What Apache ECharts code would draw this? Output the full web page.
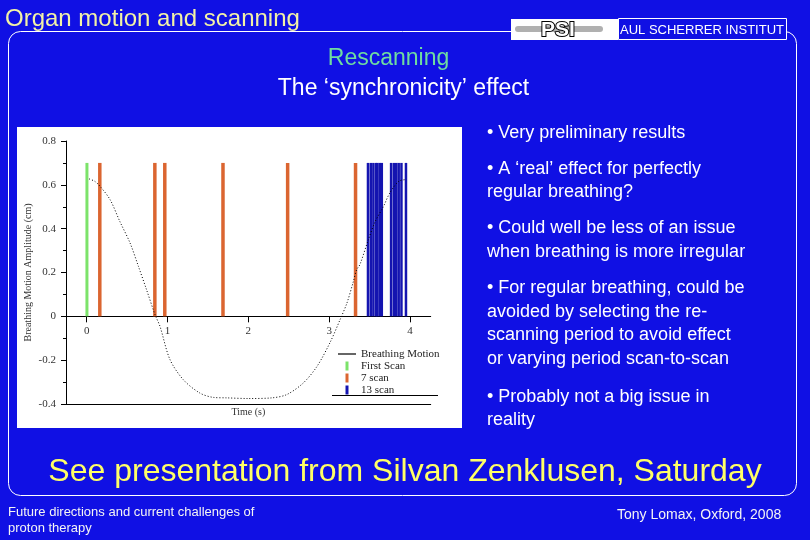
<!DOCTYPE html>
<html><head><meta charset="utf-8">
<script src="https://cdn.jsdelivr.net/npm/echarts@6/dist/echarts.min.js"></script>
<style>html,body{margin:0;padding:0;background:#1010e4}#c{width:810px;height:540px}</style>
</head><body><div id="c"></div>
<script>
// ---- data ----
const timeTicks = [0, 1, 2, 3, 4];
const curveTime = [0.03,0.10,0.166,0.29,0.41,0.536,0.64,0.74,0.845,0.907,1.03,1.195,1.40,1.57,1.73,2.0,2.29,2.475,2.68,2.85,3.01,3.135,3.22,3.30,3.34,3.38,3.485,3.57,3.67,3.75,3.86,3.95];
const curveAmp  = [0.627,0.616,0.593,0.532,0.433,0.335,0.228,0.122,0.008,-0.046,-0.197,-0.289,-0.35,-0.37,-0.372,-0.375,-0.372,-0.357,-0.304,-0.228,-0.12,-0.015,0.061,0.16,0.213,0.236,0.35,0.433,0.50,0.563,0.616,0.624];
const firstScanTime = [0];
const sevenScanTime = [0.156, 0.837, 0.96, 1.68, 2.48, 3.32];
const thirteenScanTime = [3.48, 3.515, 3.547, 3.58, 3.597, 3.626, 3.651, 3.766, 3.80, 3.83, 3.86, 3.894, 3.95];
const scanMarkerHeight = 0.7;
const seriesNames = ['Breathing Motion', 'First Scan', '7 scan', '13 scan'];
const bulletLines = [
  ['• Very preliminary results', 132.7],
  ['• A ‘real’ effect for perfectly', 169.3],
  ['regular breathing?', 192],
  ['• Could well be less of an issue', 228.3],
  ['when breathing is more irregular', 251.7],
  ['• For regular breathing, could be', 288.3],
  ['avoided by selecting the re-', 311.7],
  ['scanning period to avoid effect', 335.5],
  ['or varying period scan-to-scan', 359.5],
  ['• Probably not a big issue in', 396.7],
  ['reality', 420]
];

const SERIF = '"Liberation Serif", "DejaVu Serif", serif';
const SANS = '"Liberation Sans", Arial, sans-serif';
const BG = '#1010e4';

const chart = echarts.init(document.getElementById('c'));
const xMin = -0.256, xMax = 4.256;
const yMin = -0.4, yMax = 0.8;
const gTop = 141, gBottom = 136, gH = 540 - gTop - gBottom;
const zeroY = gTop + gH * (yMax / (yMax - yMin));

const graphicEls = [
  {type:'rect', z:-10, silent:true, shape:{x:8.5,y:31.5,width:788,height:464,r:12}, style:{fill:null, stroke:'#ffffff', lineWidth:1}},
  {type:'rect', z:-5, silent:true, shape:{x:17,y:127,width:445,height:301}, style:{fill:'#ffffff'}},
  {type:'line', silent:true, shape:{x1:332,y1:395.5,x2:438,y2:395.5}, style:{stroke:'#000', lineWidth:1}},
  {type:'text', x:5, y:19.5, style:{text:'Organ motion and scanning', font:'24px ' + SANS, fill:'#f2f2a6', verticalAlign:'middle'}},
  {type:'rect', shape:{x:511,y:19,width:107,height:21}, style:{fill:'#ffffff'}},
  {type:'rect', shape:{x:515,y:26,width:88,height:6,r:3}, style:{fill:'#b0b0b0'}},
  {type:'text', x:558, y:30, style:{text:'PSI', font:'bold 21px ' + SANS, fill:'#ffffff', stroke:'#000', lineWidth:2, align:'center', verticalAlign:'middle'}},
  {type:'rect', shape:{x:618.5,y:18.5,width:168,height:21}, style:{fill:BG, stroke:'#ffffff', lineWidth:1}},
  {type:'text', x:620, y:30, style:{text:'AUL SCHERRER INSTITUT', font:'13px ' + SANS, fill:'#ffffff', verticalAlign:'middle'}},
  {type:'text', x:388.5, y:59, style:{text:'Rescanning', font:'23px ' + SANS, fill:'#6fdca0', align:'center', verticalAlign:'middle'}},
  {type:'text', x:403.5, y:89, style:{text:'The ‘synchronicity’ effect', font:'23px ' + SANS, fill:'#ffffff', align:'center', verticalAlign:'middle'}},
  {type:'text', x:405, y:472, style:{text:'See presentation from Silvan Zenklusen, Saturday', font:'32px ' + SANS, fill:'#ffff66', align:'center', verticalAlign:'middle'}},
  {type:'text', x:8, y:512, style:{text:'Future directions and current challenges of', font:'13px ' + SANS, fill:'#f4f4f4', verticalAlign:'middle'}},
  {type:'text', x:8, y:528.5, style:{text:'proton therapy', font:'13px ' + SANS, fill:'#f4f4f4', verticalAlign:'middle'}},
  {type:'text', x:617, y:515, style:{text:'Tony Lomax, Oxford, 2008', font:'14px ' + SANS, fill:'#f4f4f4', verticalAlign:'middle'}}
];
bulletLines.forEach(([t, y]) => graphicEls.push({type:'text', x:487, y:y, style:{text:t, font:'18px ' + SANS, fill:'#ffffff', verticalAlign:'middle'}}));

const barSeries = (name, times, color, w) => ({
  name, type:'bar', xAxisIndex:0, yAxisIndex:0, barWidth:w, barGap:'-100%',
  itemStyle:{color}, z:3,
  data: times.map(t => [t, scanMarkerHeight])
});

chart.setOption({
  backgroundColor: BG,
  animation: false,
  grid: [
    {left:66, right:379.3, top:gTop, bottom:gBottom},
    {left:66, right:379.3, top:gTop, bottom:540 - zeroY}
  ],
  xAxis: [
    {type:'value', gridIndex:0, min:xMin, max:xMax, position:'bottom',
     axisLine:{show:true, onZero:false, lineStyle:{color:'#000', width:1}},
     axisTick:{show:false}, axisLabel:{show:false}, splitLine:{show:false},
     name:'Time (s)', nameLocation:'middle', nameGap:3,
     nameTextStyle:{fontFamily:SERIF, fontSize:10, color:'#333', verticalAlign:'top'}},
    {type:'value', gridIndex:1, min:xMin, max:xMax, position:'bottom',
     axisLine:{show:true, onZero:false, lineStyle:{color:'#000', width:1}},
     axisTick:{show:true, customValues:timeTicks, length:6, lineStyle:{color:'#000'}},
     axisLabel:{customValues:timeTicks, margin:9, fontFamily:SERIF, fontSize:11, color:'#333'},
     splitLine:{show:false}}
  ],
  yAxis: [
    {type:'value', gridIndex:0, min:yMin, max:yMax, interval:0.2,
    axisLine:{show:true, onZero:false, lineStyle:{color:'#000', width:1}},
    axisTick:{show:true, length:5, lineStyle:{color:'#000'}},
    minorTick:{show:true, splitNumber:2, length:3, lineStyle:{color:'#000'}},
    axisLabel:{margin:10, fontFamily:SERIF, fontSize:11, color:'#333',
      formatter: v => Math.abs(v) < 1e-9 ? '0' : v.toFixed(1)},
    splitLine:{show:false},
    name:'Breathing Motion Amplitude (cm)', nameLocation:'middle', nameGap:33,
    nameTextStyle:{fontFamily:SERIF, fontSize:10, color:'#333'}},
    {type:'value', gridIndex:1, min:0, max:1, show:false}
  ],
  legend: {orient:'vertical', left:333, top:343.5, itemWidth:18, itemHeight:9, itemGap:1,
    selectedMode:false, itemStyle:{borderWidth:0},
    textStyle:{fontFamily:SERIF, fontSize:11, color:'#222', lineHeight:11},
    data:[
      {name:seriesNames[0], icon:'path://M0,0H18V1.2H0Z'},
      {name:seriesNames[1], icon:'path://M0,0H3V9H0Z'},
      {name:seriesNames[2], icon:'path://M0,0H3V9H0Z'},
      {name:seriesNames[3], icon:'path://M0,0H3V9H0Z'}
    ]},
  graphic: {elements: graphicEls},
  series: [
    {name:seriesNames[0], type:'line', xAxisIndex:0, yAxisIndex:0, showSymbol:false, smooth:0.3, z:4,
     itemStyle:{color:'#000'}, lineStyle:{color:'#000', width:1, type:[1,2]},
     data: curveTime.map((t, i) => [t, curveAmp[i]])},
    barSeries(seriesNames[1], firstScanTime, '#7ce36a', 3),
    barSeries(seriesNames[2], sevenScanTime, '#db6530', 3.5),
    barSeries(seriesNames[3], thirteenScanTime, '#1414b0', 2.5)
  ]
});
</script></body></html>
